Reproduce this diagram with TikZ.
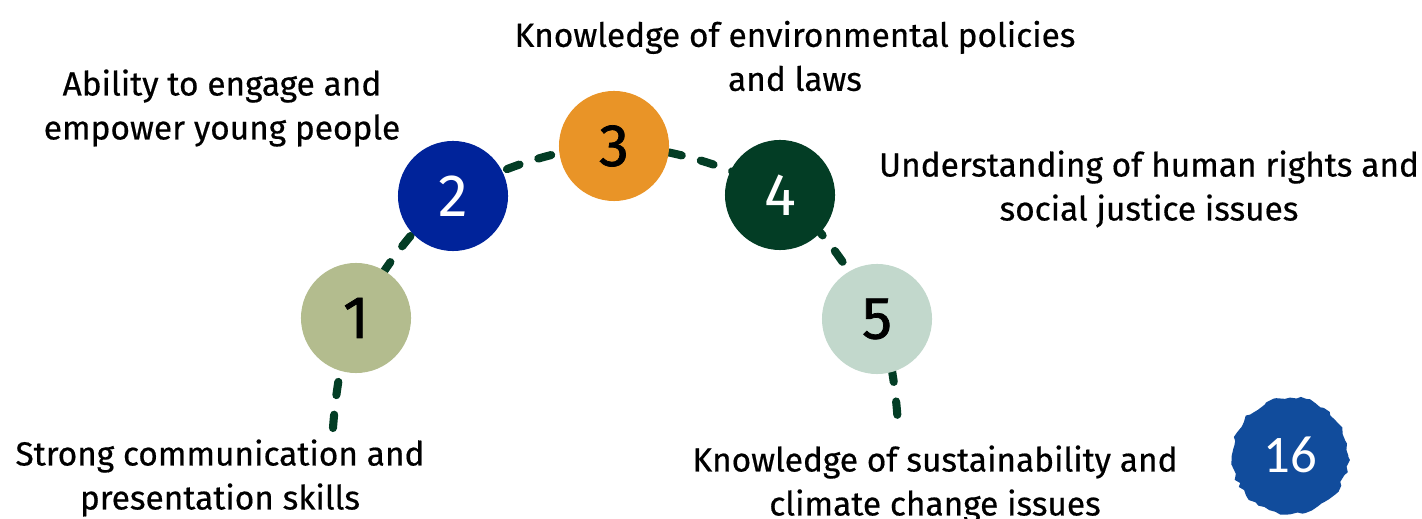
\documentclass[tikz,border=0pt]{standalone}
\usepackage{fontspec}
\setmainfont{Fira Sans}
\newfontfamily\labelfont{Fira Sans}[FakeBold=0.5]
\newfontfamily\heavyfont{Fira Sans}[FakeBold=1.2]
\newfontfamily\pagefont{Carlito}
\usetikzlibrary{positioning,backgrounds,decorations.pathmorphing}

\definecolor{sage}{RGB}{179,188,142}
\definecolor{royal}{RGB}{0,35,154}
\definecolor{amber}{RGB}{233,148,39}
\definecolor{forest}{RGB}{3,61,37}
\definecolor{mint}{RGB}{194,216,204}
\definecolor{pageblue}{RGB}{17,76,156}

\begin{document}
\begin{tikzpicture}[x=0.01cm,y=-0.01cm]
		\tikzstyle{skill} = [circle, draw=none, minimum size=1.1cm, inner sep=0pt, font=\fontsize{17}{17}\selectfont]
		\tikzstyle{dark} = [skill, font=\heavyfont\fontsize{17}{17}\selectfont]
		\tikzstyle{label} = [align=center, font=\labelfont\fontsize{9.5}{12.5}\selectfont, inner sep=0pt]
		\tikzstyle{trail} = [draw=forest, line width=2.3pt, line cap=round, dash pattern=on 3.8pt off 5.6pt]
		\useasboundingbox (0,0) rectangle (1422,519);

		\coordinate (start) at (333,428);
		\coordinate (stop) at (898,426);
		\node [dark, fill=sage] (one) at (356,318) {1};
		\node [skill, fill=royal, text=white] (two) at (453,196) {2};
		\node [dark, fill=amber] (three) at (614,146) {3};
		\node [skill, fill=forest, text=white] (four) at (780,195) {4};
		\node [dark, fill=mint] (five) at (877,319) {5};

		% dashed path behind the circles
		\begin{scope}[on background layer]
			\path[trail] plot[smooth, tension=0.55] coordinates {(start) (one.center) (two.center) (three.center) (four.center) (five.center) (stop)};
		\end{scope}

		\node [label] (labone) at (220,478) {Strong communication and\\presentation skills};
		\node [label] (labtwo) at (222,108) {Ability to engage and\\empower young people};
		\node [label] (labthree) at (795,56) {Knowledge of environmental policies\\and laws};
		\node [label] (labfour) at (1149,189) {Understanding of human rights and\\social justice issues};
		\node [label] (labfive) at (935,484) {Knowledge of sustainability and\\climate change issues};

		% page badge
		\fill[pageblue, decorate, decoration={random steps, segment length=1.5pt, amplitude=0.6pt}] (1290,456) circle (58);
		\node [text=white, font=\pagefont\fontsize{15}{15}\selectfont] (page) at (1290,455) {16};
	\end{tikzpicture}
\end{document}
